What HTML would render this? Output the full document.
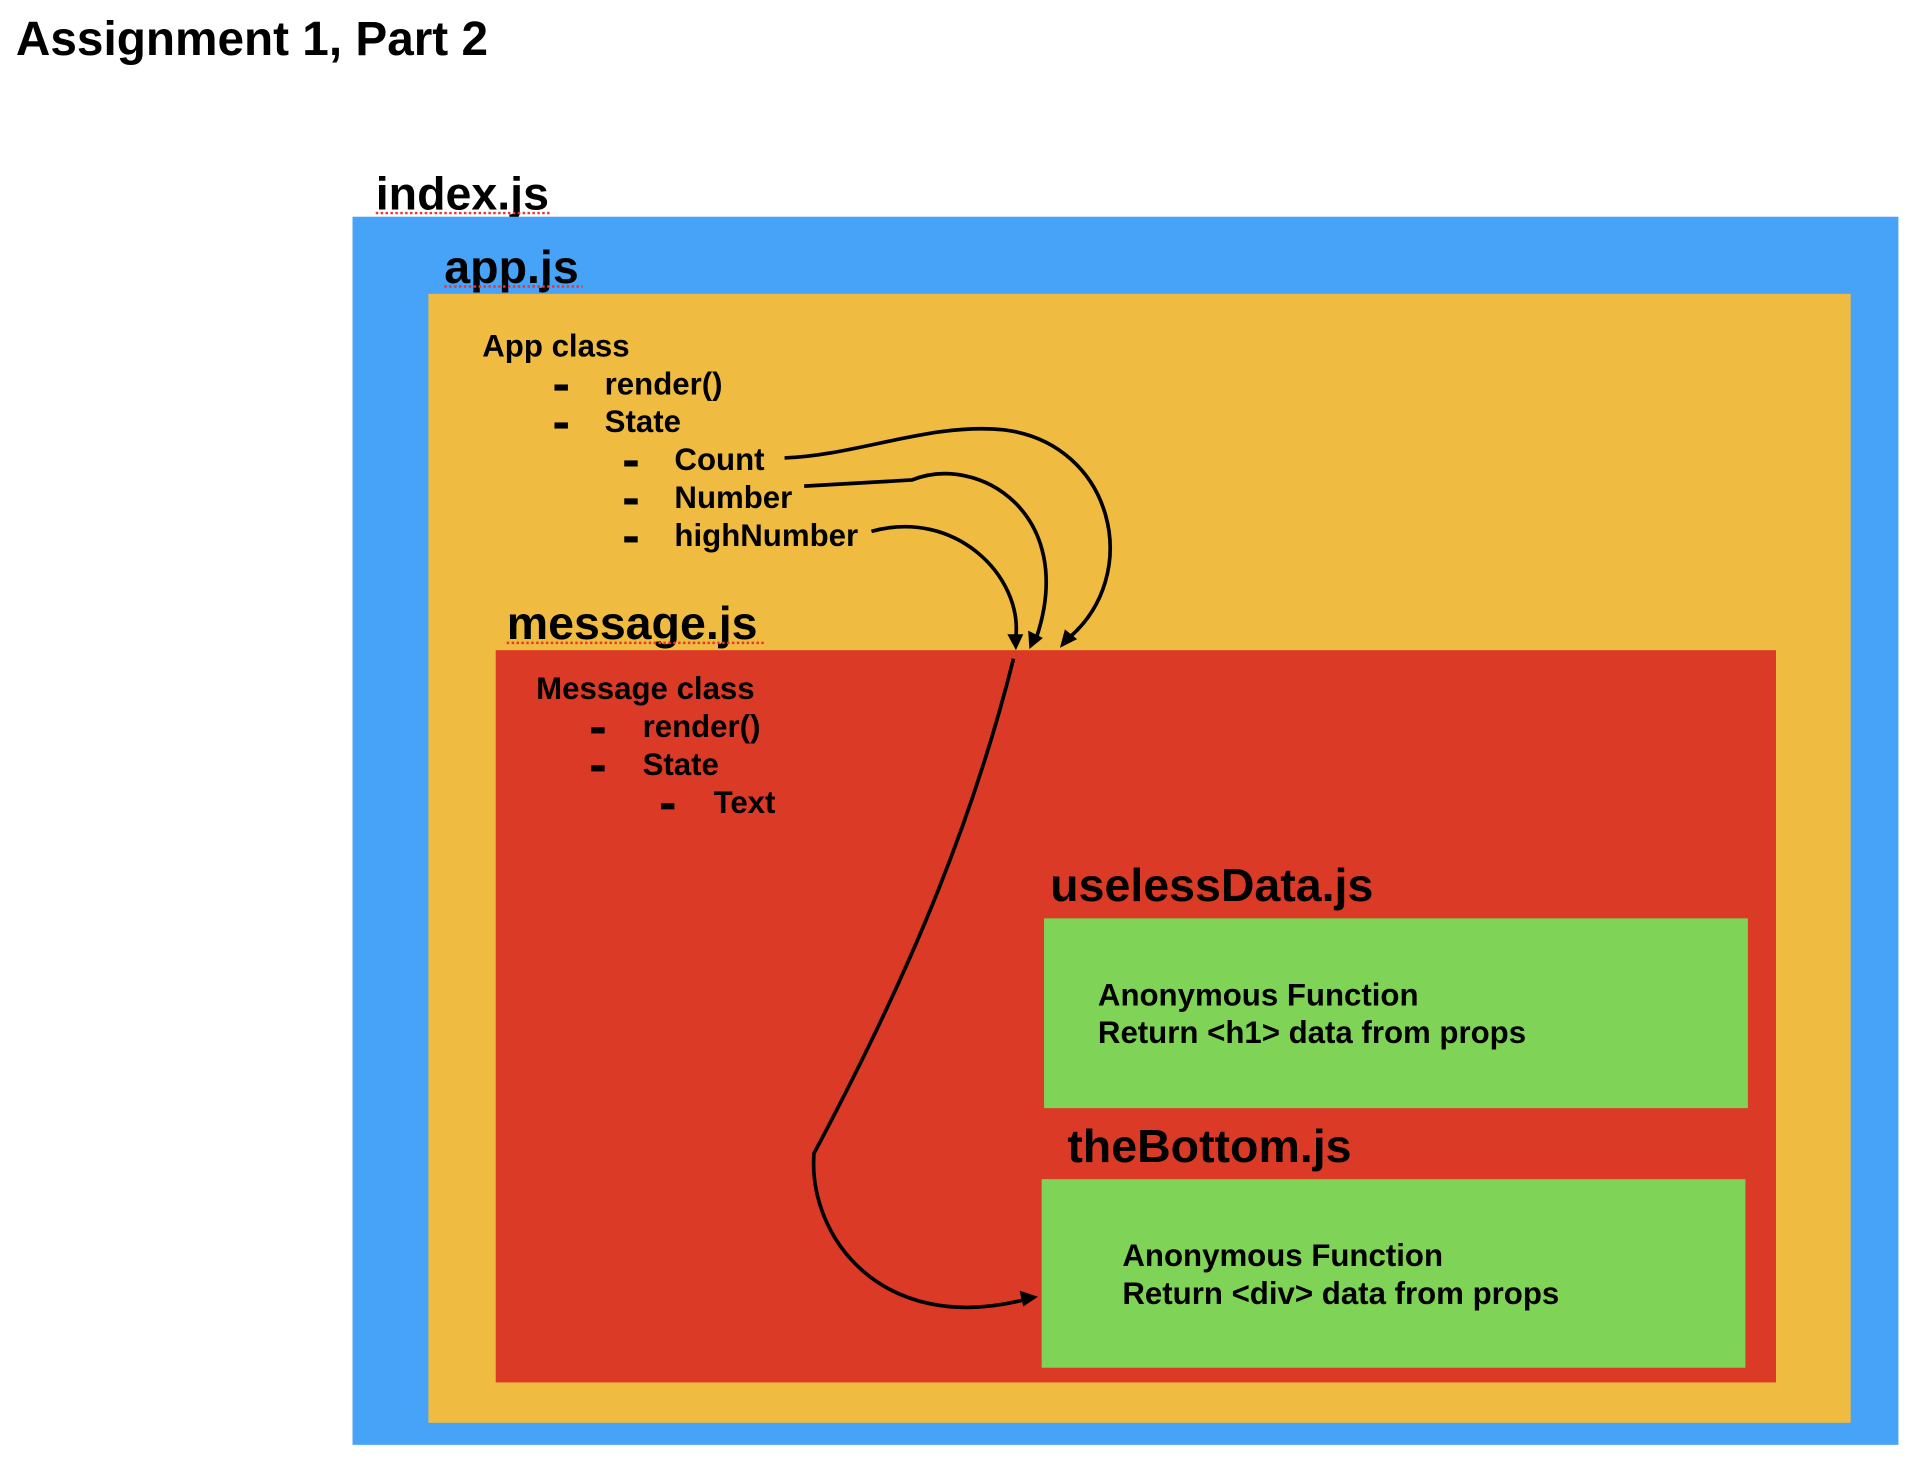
<!DOCTYPE html>
<html><head><style>
html,body{margin:0;padding:0;background:#fff;}
svg{display:block;}
text{font-family:"Liberation Sans",Arial,sans-serif;font-weight:bold;fill:#000;}
</style></head><body>
<svg width="1918" height="1462" viewBox="0 0 1567 1194" preserveAspectRatio="none" xmlns="http://www.w3.org/2000/svg">
<text x="13" y="45" font-size="39">Assignment 1, Part 2</text>
<text x="307" y="171" font-size="38">index.js</text>
<line x1="307" y1="174" x2="451" y2="174" stroke="#e33" stroke-width="2" stroke-dasharray="2,2"/>
<rect x="288" y="177" width="1263" height="1003" fill="#47a3f7"/>
<text x="363" y="231" font-size="38">app.js</text>
<line x1="363" y1="234" x2="476" y2="234" stroke="#e33" stroke-width="2" stroke-dasharray="2,2"/>
<rect x="350" y="240" width="1162" height="922" fill="#f0bb41"/>
<g font-size="25.5">
<text x="394" y="291">App class</text>
<rect x="453" y="314" width="11" height="5"/><text x="494" y="322">render()</text>
<rect x="453" y="345" width="11" height="5"/><text x="494" y="353">State</text>
<rect x="510" y="376" width="11" height="5"/><text x="551" y="384">Count</text>
<rect x="510" y="407" width="11" height="5"/><text x="551" y="415">Number</text>
<rect x="510" y="438" width="11" height="5"/><text x="551" y="446">highNumber</text>
</g>
<text x="414" y="522" font-size="38">message.js</text>
<line x1="414" y1="525" x2="626" y2="525" stroke="#e33" stroke-width="2" stroke-dasharray="2,2"/>
<rect x="405" y="531" width="1046" height="598" fill="#db3a26"/>
<g font-size="25.5">
<text x="438" y="571">Message class</text>
<rect x="483" y="594" width="11" height="5"/><text x="525" y="602">render()</text>
<rect x="483" y="625" width="11" height="5"/><text x="525" y="633">State</text>
<rect x="540" y="656" width="11" height="5"/><text x="583" y="664">Text</text>
</g>
<text x="858" y="736" font-size="38">uselessData.js</text>
<rect x="853" y="750" width="575" height="155" fill="#7fd356"/>
<g font-size="25.5">
<text x="897" y="821">Anonymous Function</text>
<text x="897" y="852">Return &lt;h1&gt; data from props</text>
</g>
<text x="872" y="949" font-size="38">theBottom.js</text>
<rect x="851" y="963" width="575" height="154" fill="#7fd356"/>
<g font-size="25.5">
<text x="917" y="1034">Anonymous Function</text>
<text x="917" y="1065">Return &lt;div&gt; data from props</text>
</g>
<g fill="none" stroke="#000" stroke-width="3">
<path d="M641 374 C700 372 760 345 820 351 C910 362 935 470 872 522"/>
<path d="M657 397 L745 392 C800 370 880 420 847 520"/>
<path d="M712 434 C780 415 835 470 830 520"/>
<path d="M828 538 C790 690 730 820 665 942 C660 1010 720 1090 835 1062"/>
</g>
<g fill="#000">
<polygon points="866,529 870,514 880,522"/>
<polygon points="841,530 840,515 852,521"/>
<polygon points="830,531 823,518 836,518"/>
<polygon points="848,1059 833,1054 836,1067"/>
</g>
</svg>
</body></html>
